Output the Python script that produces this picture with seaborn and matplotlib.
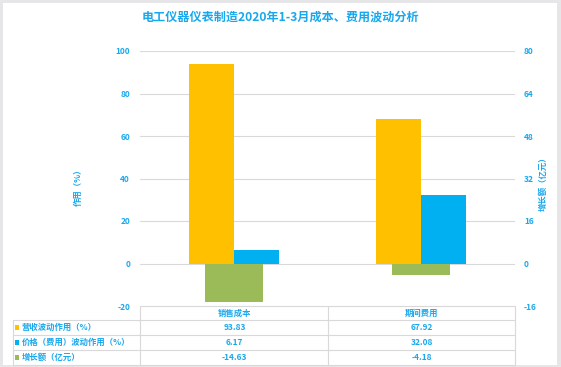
import matplotlib
matplotlib.use("Agg")
import matplotlib.pyplot as plt
import seaborn as sns
import pandas as pd
from matplotlib.patches import Rectangle
from matplotlib.lines import Line2D

# ---- data ----
categories = ["销售成本", "期间费用"]
series_names = ["营收波动作用（%）", "价格（费用）波动作用（%）", "增长额（亿元）"]
revenue_effect = [93.83, 67.92]
price_effect = [6.17, 32.08]
growth = [-14.63, -4.18]
left_ticks = [-20, 0, 20, 40, 60, 80, 100]
right_ticks = [-16, 0, 16, 32, 48, 64, 80]
title = "电工仪器仪表制造2020年1-3月成本、费用波动分析"
left_label = "作用（%）"
right_label = "增长额（亿元）"

colors = ["#FFC000", "#00B0F0", "#9BBB59"]
txt = "#18A8EE"
grid_c = "#D9D9D9"

sns.set_theme(style="white")
plt.rcParams["font.family"] = ["Noto Sans CJK SC", "DejaVu Sans"]

W, H = 561, 367
fig = plt.figure(figsize=(W / 100, H / 100), dpi=100)
fig.patch.set_facecolor("#E6E6E9")
fig.patches.append(Rectangle((3 / W, 1 - 365 / H), 554 / W, 362 / H, transform=fig.transFigure,
                             facecolor="white", edgecolor="none", zorder=-10))

def fx(px):
    return px / W

def fy(py):
    return 1 - py / H

ax = fig.add_axes([fx(140), fy(306), (515 - 140) / W, (306 - 51) / H])
ax.set_facecolor("none")

df_left = pd.DataFrame({
    "cat": categories * 2,
    "series": [series_names[0]] * 2 + [series_names[1]] * 2,
    "val": revenue_effect + price_effect,
})
sns.barplot(data=df_left, x="cat", y="val", hue="series", order=categories,
            hue_order=series_names[:2], palette=colors[:2], width=0.48,
            dodge=True, legend=False, ax=ax, saturation=1, linewidth=0)

ax2 = ax.twinx()
df_right = pd.DataFrame({"cat": categories, "val": growth})
sns.barplot(data=df_right, x="cat", y="val", order=categories, color=colors[2],
            width=0.31, ax=ax2, saturation=1, linewidth=0)

for a in (ax, ax2):
    a.set_xlim(-0.5, 1.5)
    for s in a.spines.values():
        s.set_visible(False)
    a.set_xlabel("")
    a.set_ylabel("")
    a.set_xticks([])

ax.set_ylim(-20, 100)
ax2.set_ylim(-16, 80)
ax.set_yticks(left_ticks)
ax2.set_yticks(right_ticks)
ax.set_yticklabels([str(t) for t in left_ticks], fontweight="bold")
ax2.set_yticklabels([str(t) for t in right_ticks], fontweight="bold")
ax.tick_params(axis="y", length=0, pad=7.2, labelsize=6, labelcolor=txt)
ax2.tick_params(axis="y", length=0, pad=6.5, labelsize=6, labelcolor=txt)
for t in left_ticks[1:]:
    ax.axhline(t, color=grid_c, lw=0.8, zorder=0)

fig.text(fx(280.5), fy(17), title, ha="center", va="center", fontsize=8.7, color=txt, fontweight="bold")
fig.text(fx(78), fy(185), left_label, rotation=90, ha="center", va="center", fontsize=6,
         color=txt, fontweight="bold")
fig.text(fx(543), fy(182), right_label, rotation=90, ha="center", va="center", fontsize=6,
         color=txt, fontweight="bold")

# ---- data table ----
def hline(y, x0, x1):
    fig.add_artist(Line2D([fx(x0), fx(x1)], [fy(y), fy(y)], color=grid_c, lw=0.8))

def vline(x, y0, y1):
    fig.add_artist(Line2D([fx(x), fx(x)], [fy(y0), fy(y1)], color=grid_c, lw=0.8))

hline(306, 140, 515)
for y in (320, 335, 350, 365):
    hline(y, 13, 515)
vline(140, 306, 365)
vline(328, 306, 365)
vline(515, 306, 365)
vline(13, 320, 365)

col_x = [234.5, 421.5]
for cx, c in zip(col_x, categories):
    fig.text(fx(cx), fy(313), c, ha="center", va="center", fontsize=6, color=txt, fontweight="bold")
rows = [revenue_effect, price_effect, growth]
row_y = [327.5, 342.5, 357.5]
for ry, name, vals, col in zip(row_y, series_names, rows, colors):
    fig.patches.append(Rectangle((fx(15), fy(ry + 2.2)), 4.4 / W, 4.4 / H,
                                 transform=fig.transFigure, facecolor=col, edgecolor="none"))
    fig.text(fx(22), fy(ry), name, ha="left", va="center", fontsize=6, color=txt, fontweight="bold")
    for cx, v in zip(col_x, vals):
        fig.text(fx(cx), fy(ry), f"{v:.2f}", ha="center", va="center", fontsize=6,
                 color=txt, fontweight="bold")

fig.savefig("out.png", dpi=100, facecolor=fig.get_facecolor())
